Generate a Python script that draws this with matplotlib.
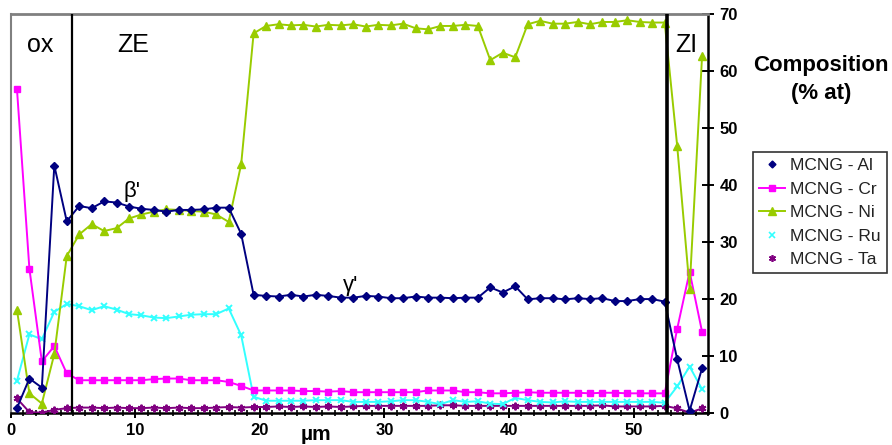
import matplotlib
matplotlib.use("Agg")
import matplotlib.pyplot as plt
from matplotlib.lines import Line2D
from matplotlib.ticker import MultipleLocator

plt.rcParams['font.family'] = ['Liberation Sans', 'DejaVu Sans']

# distance (µm)
x_um = [0.5, 1.5, 2.5, 3.5, 4.5, 5.5, 6.5, 7.5, 8.5, 9.5,
        10.5, 11.5, 12.5, 13.5, 14.5, 15.5, 16.5, 17.5, 18.5, 19.5,
        20.5, 21.5, 22.5, 23.5, 24.5, 25.5, 26.5, 27.5, 28.5, 29.5,
        30.5, 31.5, 32.5, 33.5, 34.5, 35.5, 36.5, 37.5, 38.5, 39.5,
        40.5, 41.5, 42.5, 43.5, 44.5, 45.5, 46.5, 47.5, 48.5, 49.5,
        50.5, 51.5, 52.5, 53.5, 54.5, 55.5]

al = [0.8, 6.0, 4.4, 43.4, 33.6, 36.3, 35.9, 37.1, 36.9, 36.2,
      35.8, 35.6, 35.3, 35.6, 35.6, 35.7, 36.0, 36.0, 31.4, 20.7,
      20.5, 20.4, 20.7, 20.4, 20.7, 20.5, 20.2, 20.2, 20.5, 20.4,
      20.1, 20.1, 20.4, 20.2, 20.2, 20.1, 20.2, 20.2, 22.0, 21.1,
      22.2, 19.9, 20.1, 20.1, 19.9, 20.1, 19.95, 20.1, 19.6, 19.6,
      19.95, 19.95, 19.5, 9.4, 0.35, 7.8]

cr = [56.9, 25.3, 9.0, 11.7, 6.9, 5.7, 5.7, 5.7, 5.7, 5.7,
      5.7, 5.9, 6.0, 6.0, 5.7, 5.7, 5.7, 5.4, 4.7, 3.9,
      3.9, 3.9, 3.9, 3.8, 3.8, 3.7, 3.8, 3.6, 3.6, 3.6,
      3.6, 3.6, 3.6, 3.9, 3.9, 3.9, 3.6, 3.6, 3.4, 3.4,
      3.5, 3.6, 3.5, 3.5, 3.5, 3.5, 3.4, 3.5, 3.5, 3.4,
      3.4, 3.4, 3.4, 14.7, 24.75, 14.2]

ni = [18.1, 3.4, 1.6, 10.3, 27.5, 31.3, 33.1, 31.9, 32.4, 34.1,
      34.8, 35.3, 35.7, 35.6, 35.4, 35.3, 34.8, 33.5, 43.6, 66.6,
      67.9, 68.2, 68.0, 68.1, 67.8, 68.1, 68.0, 68.2, 67.8, 68.1,
      68.0, 68.3, 67.5, 67.3, 67.9, 67.9, 68.1, 67.9, 61.9, 63.2,
      62.4, 68.2, 68.8, 68.3, 68.3, 68.6, 68.2, 68.6, 68.6, 68.9,
      68.6, 68.5, 68.5, 46.9, 21.8, 62.6]

ru = [5.6, 13.75, 12.9, 17.7, 19.1, 18.7, 18.0, 18.7, 18.1, 17.3,
      17.1, 16.7, 16.6, 16.9, 17.2, 17.3, 17.3, 18.3, 13.6, 2.8,
      2.1, 2.1, 2.1, 2.1, 2.2, 2.2, 2.2, 1.9, 1.9, 1.9,
      2.0, 2.2, 2.2, 1.9, 1.5, 2.2, 1.9, 2.0, 1.6, 1.5,
      2.6, 2.2, 1.9, 1.8, 2.0, 1.9, 1.9, 1.9, 1.9, 1.9,
      1.9, 1.9, 1.75, 4.6, 8.1, 4.1]

ta = [2.5, 0.1, 0.0, 0.5, 0.8, 0.9, 0.9, 0.8, 0.9, 0.8,
      0.8, 0.9, 0.8, 0.9, 0.8, 0.8, 0.9, 1.0, 0.9, 1.0,
      1.0, 1.1, 1.0, 1.1, 1.0, 1.1, 1.0, 1.1, 1.2, 1.2,
      1.2, 1.2, 1.2, 1.2, 1.3, 1.3, 1.2, 1.2, 1.2, 1.2,
      1.2, 1.2, 1.2, 1.2, 1.2, 1.2, 1.2, 1.3, 1.1, 1.1,
      1.1, 1.1, 1.2, 0.75, 0.0, 0.75]

series_labels = ['MCNG - Al', 'MCNG - Cr', 'MCNG - Ni', 'MCNG - Ru', 'MCNG - Ta']
zone_bounds = [4.9, 52.7]
x_ticks = [0, 10, 20, 30, 40, 50]
y_ticks = [0, 10, 20, 30, 40, 50, 60, 70]

c_al, c_cr, c_ni, c_ru, c_ta = '#000080', '#FF00FF', '#99CC00', '#33FFFF', '#800080'
star = (6, 2, 0)

fig = plt.figure(figsize=(8.92, 4.45), dpi=100)
ax = fig.add_axes([10.7 / 892, 1 - 412.7 / 445, (708.3 - 10.7) / 892, (412.7 - 14) / 445])

lw = 1.4
ax.plot(x_um, ta, color=c_ta, lw=lw, marker=star, ms=5.5, mew=1.4, zorder=3)
ax.plot(x_um, ru, color=c_ru, lw=lw, marker='x', ms=5, mew=1.4, zorder=3)
ax.plot(x_um, cr, color=c_cr, lw=lw, marker='s', ms=4.5, zorder=4)
ax.plot(x_um, ni, color=c_ni, lw=lw, marker='^', ms=5.5, zorder=4)
ax.plot(x_um, al, color=c_al, lw=lw, marker='D', ms=4.3, zorder=5)

ax.vlines(zone_bounds[0], 0, 70, color='black', lw=1.6, zorder=6)
ax.vlines(zone_bounds[1], 0, 70, color='black', lw=2.6, zorder=6)

ax.set_xlim(0, 56)
ax.set_ylim(0, 70)
ax.set_xticks(x_ticks)
ax.xaxis.set_minor_locator(MultipleLocator(1))
ax.set_yticks(y_ticks)
ax.yaxis.tick_right()
ax.tick_params(axis='x', which='major', direction='inout', length=7, width=1.4,
               labelsize=12, pad=4)
ax.tick_params(axis='x', which='minor', direction='inout', length=5, width=1.2)
ax.tick_params(axis='y', which='major', direction='inout', length=8, width=1.4,
               labelsize=12, pad=4)
for lab in ax.get_xticklabels() + ax.get_yticklabels():
    lab.set_fontweight('bold')

ax.spines['top'].set_color('#808080')
ax.spines['top'].set_linewidth(2)
ax.spines['left'].set_color('#808080')
ax.spines['left'].set_linewidth(1.5)
ax.spines['bottom'].set_color('black')
ax.spines['bottom'].set_linewidth(1.8)
ax.spines['right'].set_color('black')
ax.spines['right'].set_linewidth(1.8)

# zone labels
ax.text(2.4, 64.6, 'ox', fontsize=18, ha='center', va='center')
ax.text(9.8, 64.6, 'ZE', fontsize=18, ha='center', va='center')
ax.text(54.2, 64.6, 'ZI', fontsize=18, ha='center', va='center')
ax.text(9.7, 38.8, "β'", fontsize=16, ha='center', va='center')
ax.text(27.3, 22.3, "γ'", fontsize=16, ha='center', va='center')

fig.text(821 / 892, 1 - 66 / 445, 'Composition', fontsize=16, fontweight='bold',
         ha='center', va='center')
fig.text(821 / 892, 1 - 94 / 445, '(% at)', fontsize=16, fontweight='bold',
         ha='center', va='center')
fig.text(316 / 892, 1 - 434 / 445, 'µm', fontsize=15, fontweight='bold',
         ha='center', va='center')

handles = [
    Line2D([], [], color=c_al, lw=0, marker='D', ms=3.5),
    Line2D([], [], color=c_cr, lw=1.4, marker='s', ms=4.5),
    Line2D([], [], color=c_ni, lw=1.4, marker='^', ms=5.5),
    Line2D([], [], color=c_ru, lw=0, marker='x', ms=5, mew=1.2),
    Line2D([], [], color=c_ta, lw=0, marker=star, ms=5, mew=1.2),
]
leg = fig.legend(handles, series_labels, loc='upper left',
                 bbox_to_anchor=(753 / 892, 1 - 152 / 445), borderaxespad=0,
                 frameon=True, fancybox=False, edgecolor='black',
                 fontsize=12.5, handlelength=1.5, handletextpad=0.3,
                 labelspacing=0.48, borderpad=0.35)
leg.get_frame().set_linewidth(1.2)
for t in leg.get_texts():
    t.set_color('#222222')

fig.savefig('out.png', dpi=100)
